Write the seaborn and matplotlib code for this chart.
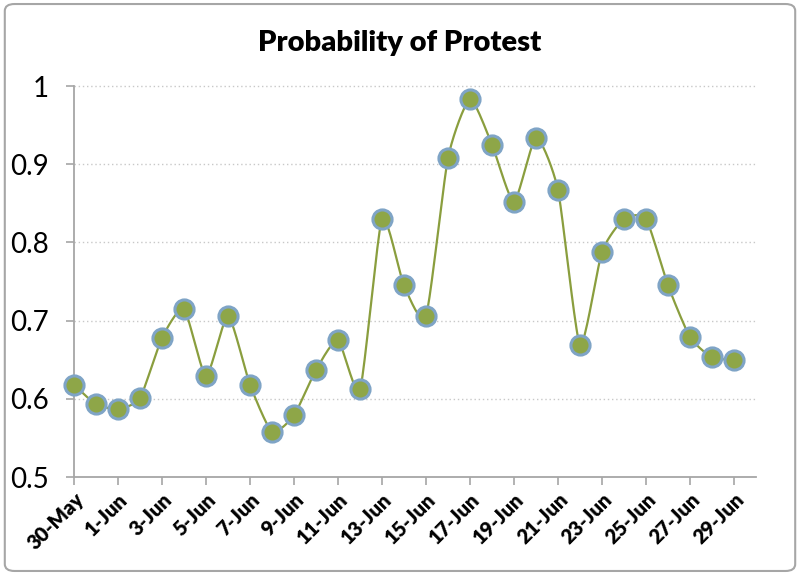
import numpy as np
import pandas as pd
import matplotlib
matplotlib.use("Agg")
import matplotlib.pyplot as plt
from matplotlib.patches import FancyBboxPatch
import seaborn as sns

# data
dates = pd.date_range("2012-05-30", "2012-06-29", freq="D")
probability = [0.618, 0.593, 0.587, 0.601, 0.678, 0.715, 0.629, 0.706, 0.618, 0.558,
               0.579, 0.637, 0.675, 0.612, 0.830, 0.745, 0.706, 0.908, 0.983, 0.925,
               0.852, 0.934, 0.867, 0.669, 0.788, 0.830, 0.830, 0.745, 0.679, 0.653,
               0.650]
y_ticks = [0.5, 0.6, 0.7, 0.8, 0.9, 1.0]
y_tick_labels = ["0.5", "0.6", "0.7", "0.8", "0.9", "1"]

LINE = "#8a9e3e"
FILL = "#8ea648"
EDGE = "#7fa4c6"
GRAY = "#a6a6a6"

sns.set_theme(style="white")
plt.rcParams["font.family"] = ["Lato", "DejaVu Sans"]


def catmull_rom(x, y, n=20):
    """Smoothed line through the points, like Excel's smoothed line option."""
    x = np.asarray(x, float)
    y = np.asarray(y, float)
    px = np.concatenate([[x[0]], x, [x[-1]]])
    py = np.concatenate([[y[0]], y, [y[-1]]])
    xs, ys = [], []
    t = np.linspace(0, 1, n, endpoint=False)
    for i in range(1, len(px) - 2):
        for arr, out in ((px, xs), (py, ys)):
            p0, p1, p2, p3 = arr[i - 1], arr[i], arr[i + 1], arr[i + 2]
            m1 = (p2 - p0) / 2 * 0.6
            m2 = (p3 - p1) / 2 * 0.6
            h00 = 2 * t**3 - 3 * t**2 + 1
            h10 = t**3 - 2 * t**2 + t
            h01 = -2 * t**3 + 3 * t**2
            h11 = t**3 - t**2
            out.extend(h00 * p1 + h10 * m1 + h01 * p2 + h11 * m2)
    xs.append(x[-1])
    ys.append(y[-1])
    return np.array(xs), np.array(ys)


day = np.arange(len(dates))
sx, sy = catmull_rom(day, probability)
df_pts = pd.DataFrame({"day": day, "probability": probability})
df_line = pd.DataFrame({"day": sx, "probability": sy})

fig = plt.figure(figsize=(8, 5.75), dpi=100)
fig.patches.append(FancyBboxPatch((0.006, 0.007), 0.988, 0.986,
                                  boxstyle="round,pad=0,rounding_size=0.012",
                                  transform=fig.transFigure, facecolor="white",
                                  edgecolor=GRAY, linewidth=1.5, zorder=-1))
ax = fig.add_axes([0.0925, 0.1704, 0.8525, 0.68])
ax.patch.set_alpha(0)

sns.lineplot(data=df_line, x="day", y="probability", ax=ax, color=LINE,
             linewidth=1.6, sort=False, estimator=None, zorder=2)
sns.scatterplot(data=df_pts, x="day", y="probability", ax=ax, s=190,
                color=FILL, edgecolor=EDGE, linewidth=2.2, zorder=3)

ax.set_xlim(0, 31)
ax.set_ylim(0.5, 1.0)
ax.set_yticks(y_ticks)
ax.set_yticklabels(y_tick_labels, fontsize=20, color="black")
tick_days = day[::2]
ax.set_xticks(tick_days)
ax.set_xticklabels([f"{d.day}-{d.strftime('%b')}" for d in dates[::2]],
                   rotation=45, ha="right", rotation_mode="anchor",
                   fontsize=14.5, fontweight="heavy", color="black")
for y in y_ticks[1:]:
    ax.axhline(y, color="#c8c8c8", linestyle=(0, (1, 2)), linewidth=1, zorder=0)
ax.set_xlabel("")
ax.set_ylabel("")
for s in ["top", "right"]:
    ax.spines[s].set_visible(False)
for s in ["left", "bottom"]:
    ax.spines[s].set_color(GRAY)
    ax.spines[s].set_linewidth(1.3)
ax.tick_params(axis="both", direction="out", length=6, width=1.2, color=GRAY,
               left=True, bottom=True, pad=3)
ax.tick_params(axis="y", pad=12)
for c in ax.collections + ax.lines:
    c.set_clip_on(False)

fig.suptitle("Probability of Protest", x=0.5, y=0.948, fontsize=21,
             fontweight="heavy", color="black")

fig.savefig("out.png", dpi=100)
